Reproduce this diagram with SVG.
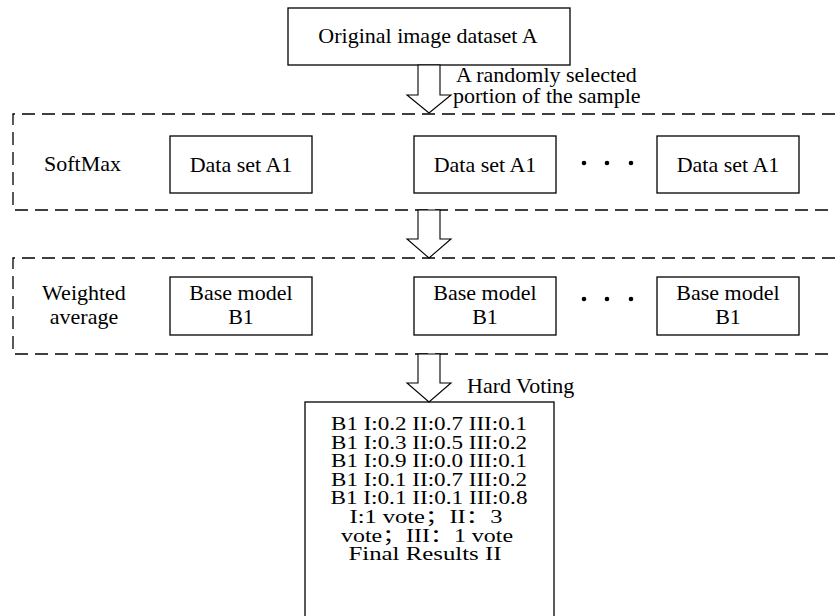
<svg xmlns="http://www.w3.org/2000/svg" width="835" height="616" viewBox="0 0 835 616">
<style>
  .box { fill: #fff; stroke: #000; stroke-width: 1.3; }
  .dash { fill: none; stroke: #000; stroke-width: 1.3; stroke-dasharray: 13 7; }
  .arrow { fill: #fff; stroke: #000; stroke-width: 1.1; stroke-linejoin: miter; }
  text { font-family: 'Liberation Serif', 'Times New Roman', Tinos, 'DejaVu Serif', 'Noto Sans CJK SC', serif; font-size: 22px; fill: #000; }
  .c { text-anchor: middle; }
  .r { font-size: 18px; }
  .dot { fill: #000; }
</style>
<rect width="835" height="616" fill="#fff"/>

<g id="group-softmax">
  <polyline class="dash" points="835,114 13,114 13,210 835,210"/>
  <text x="44" y="171">SoftMax</text>
</g>
<g id="group-weighted">
  <polyline class="dash" points="835,258 13,258 13,354 835,354"/>
  <text class="c" x="84" y="300">Weighted</text>
  <text class="c" x="84" y="324">average</text>
</g>

<g id="node-original">
  <rect class="box" x="288" y="8" width="282" height="57"/>
  <text class="c" x="428" y="43">Original image dataset A</text>
</g>

<g id="node-data1">
  <rect class="box" x="170" y="136" width="142" height="57"/>
  <text class="c" x="241" y="172">Data set A1</text>
</g>
<g id="node-data2">
  <rect class="box" x="414" y="136" width="142" height="57"/>
  <text class="c" x="485" y="172">Data set A1</text>
</g>
<g id="node-data3">
  <rect class="box" x="657" y="136" width="142" height="57"/>
  <text class="c" x="728" y="172">Data set A1</text>
</g>
<g id="dots-data">
  <circle class="dot" cx="584" cy="163" r="2.3"/>
  <circle class="dot" cx="607" cy="163" r="2.3"/>
  <circle class="dot" cx="631" cy="163" r="2.3"/>
</g>

<g id="node-base1">
  <rect class="box" x="170" y="277" width="142" height="58"/>
  <text class="c" x="241" y="300">Base model</text>
  <text class="c" x="241" y="324">B1</text>
</g>
<g id="node-base2">
  <rect class="box" x="414" y="277" width="142" height="58"/>
  <text class="c" x="485" y="300">Base model</text>
  <text class="c" x="485" y="324">B1</text>
</g>
<g id="node-base3">
  <rect class="box" x="657" y="277" width="142" height="58"/>
  <text class="c" x="728" y="300">Base model</text>
  <text class="c" x="728" y="324">B1</text>
</g>
<g id="dots-base">
  <circle class="dot" cx="584" cy="299" r="2.3"/>
  <circle class="dot" cx="607" cy="299" r="2.3"/>
  <circle class="dot" cx="631" cy="299" r="2.3"/>
</g>

<g id="node-result">
  <rect class="box" x="305" y="402" width="249" height="230"/>
  <text class="c r" x="429" y="430" textLength="196" lengthAdjust="spacingAndGlyphs">B1 I:0.2 II:0.7 III:0.1</text>
  <text class="c r" x="429" y="449" textLength="196" lengthAdjust="spacingAndGlyphs">B1 I:0.3 II:0.5 III:0.2</text>
  <text class="c r" x="429" y="467" textLength="196" lengthAdjust="spacingAndGlyphs">B1 I:0.9 II:0.0 III:0.1</text>
  <text class="c r" x="429" y="486" textLength="196" lengthAdjust="spacingAndGlyphs">B1 I:0.1 II:0.7 III:0.2</text>
  <text class="c r" x="429" y="504" textLength="197" lengthAdjust="spacingAndGlyphs">B1 I:0.1 II:0.1 III:0.8</text>
  <text class="c r" x="426" y="523" textLength="153" lengthAdjust="spacingAndGlyphs">I:1 vote；II：3</text>
  <text class="c r" x="427" y="542" textLength="172" lengthAdjust="spacingAndGlyphs">vote；III：1 vote</text>
  <text class="c r" x="425" y="560" textLength="153" lengthAdjust="spacingAndGlyphs">Final Results II</text>
</g>

<g id="connectors">
  <polygon class="arrow" points="418,65 440,65 440,95 451,95 429,113 407,95 418,95"/>
  <polygon class="arrow" points="418,210 440,210 440,239 451,239 429,258 407,239 418,239"/>
  <polygon class="arrow" points="418,354 440,354 440,383 451,383 429,402 407,383 418,383"/>
  <text x="456" y="82">A randomly selected</text>
  <text x="453" y="103">portion of the sample</text>
  <text x="467" y="393">Hard Voting</text>
</g>
</svg>
